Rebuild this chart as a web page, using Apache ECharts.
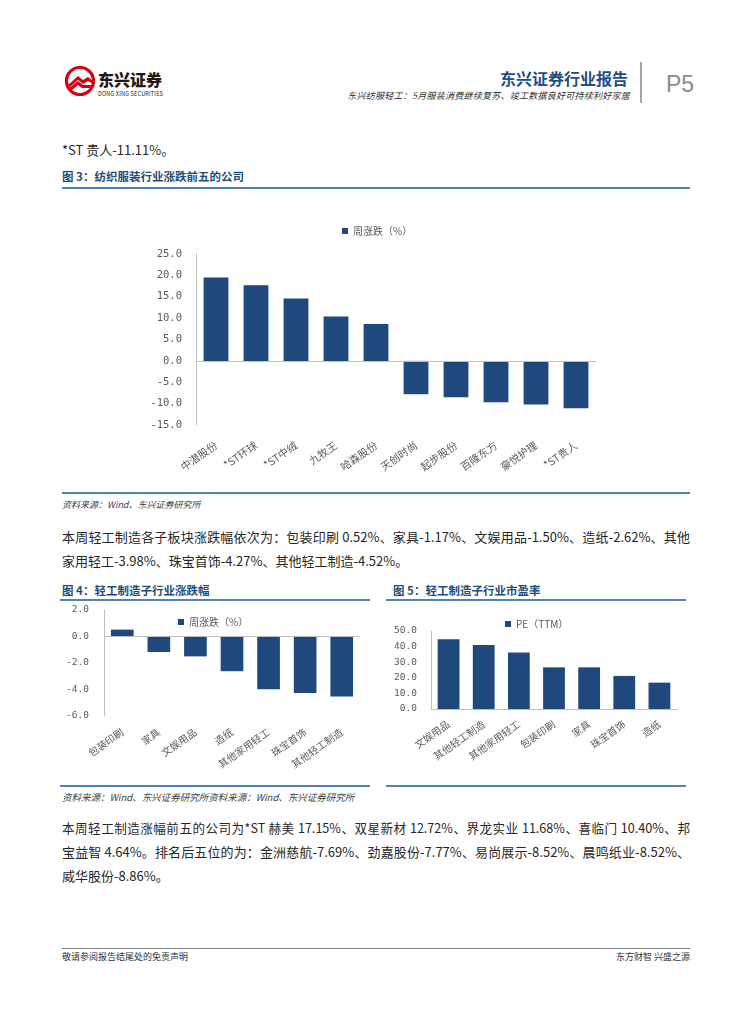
<!DOCTYPE html>
<html>
<head>
<meta charset="utf-8">
<script src="https://cdn.jsdelivr.net/npm/echarts@6/dist/echarts.min.js"></script>
<style>
html,body{margin:0;padding:0;background:#fff;}
#page{position:relative;width:755px;height:1024px;overflow:hidden;font-family:"Noto Sans CJK SC",sans-serif;color:#262626;}
.t{position:absolute;white-space:nowrap;}
.p{position:absolute;left:62px;width:628px;font-size:13px;line-height:16px;height:16px;text-align:justify;text-align-last:justify;}
.pl{position:absolute;left:62px;font-size:13px;line-height:16px;white-space:nowrap;}
.cap{position:absolute;font-size:11.5px;font-weight:bold;color:#1f4e79;line-height:14px;white-space:nowrap;}
.ln{position:absolute;height:2px;background:#4f81bd;}
.src{position:absolute;font-size:9px;font-style:italic;color:#404040;line-height:12px;white-space:nowrap;}
#chart{position:absolute;left:0;top:0;width:755px;height:1024px;}
</style>
</head>
<body>
<div id="page">
  <!-- header -->
  <svg style="position:absolute;left:62px;top:64px" width="40" height="36" viewBox="0 0 40 36">
    <circle cx="18" cy="17" r="13.5" fill="#fff" stroke="#d7000f" stroke-width="3.2"/>
    <path d="M6,21 L16,12 L21,16 L26,13 L31,17 L31,20 L26,17 L21,20 L16,16 L8,23 Z" fill="#d7000f"/>
    <path d="M6,25 L16,17 L21,21 L31,21 L31,24 L20,24 L16,21 L9,27 Z" fill="#d7000f"/>
  </svg>
  <div class="t" style="left:98px;top:69px;font-size:16px;font-weight:900;color:#231815;line-height:20px;">东兴证券</div>
  <div class="t" style="left:98px;top:91px;font-size:5.5px;color:#231815;line-height:7px;letter-spacing:0.2px;">DONG XING SECURITIES</div>
  <div class="t" style="right:127px;top:68px;font-size:16px;font-weight:bold;color:#1f4e8c;line-height:20px;">东兴证券行业报告</div>
  <div class="t" style="right:125px;top:90px;font-size:9px;color:#333;line-height:12px;letter-spacing:0.25px;font-style:italic;">东兴纺服轻工：5月服装消费继续复苏、竣工数据良好可持续利好家居</div>
  <div style="position:absolute;left:640px;top:62px;width:1.5px;height:41px;background:#a6a6a6;"></div>
  <div class="t" style="left:666px;top:70px;font-size:23px;color:#8c8c8c;line-height:28px;font-family:'Liberation Sans',sans-serif;">P5</div>

  <!-- body -->
  <div class="pl" style="top:142px;">*ST 贵人-11.11%。</div>
  <div class="cap" style="left:62px;top:169px;">图 3：纺织服装行业涨跌前五的公司</div>
  <div class="ln" style="left:62px;width:628px;top:187px;"></div>

  <div class="ln" style="left:62px;width:628px;top:492px;"></div>
  <div class="src" style="left:62px;top:499px;">资料来源：Wind、东兴证券研究所</div>

  <div class="p" style="top:529px;">本周轻工制造各子板块涨跌幅依次为：包装印刷 0.52%、家具-1.17%、文娱用品-1.50%、造纸-2.62%、其他</div>
  <div class="pl" style="top:553px;">家用轻工-3.98%、珠宝首饰-4.27%、其他轻工制造-4.52%。</div>

  <div class="cap" style="left:62px;top:583px;">图 4：轻工制造子行业涨跌幅</div>
  <div class="cap" style="left:393px;top:583px;">图 5：轻工制造子行业市盈率</div>
  <div class="ln" style="left:60px;width:310px;top:599px;"></div>
  <div class="ln" style="left:386px;width:300px;top:599px;"></div>

  <div class="ln" style="left:60px;width:310px;top:785px;"></div>
  <div class="ln" style="left:386px;width:300px;top:785px;"></div>
  <div class="src" style="left:62px;top:791px;font-size:9.5px;">资料来源：Wind、东兴证券研究所资料来源：Wind、东兴证券研究所</div>

  <div class="p" style="top:820px;font-size:12.6px;">本周轻工制造涨幅前五的公司为*ST 赫美 17.15%、双星新材 12.72%、界龙实业 11.68%、喜临门 10.40%、邦</div>
  <div class="p" style="top:844px;">宝益智 4.64%。排名后五位的为：金洲慈航-7.69%、劲嘉股份-7.77%、易尚展示-8.52%、晨鸣纸业-8.52%、</div>
  <div class="pl" style="top:868px;">威华股份-8.86%。</div>

  <!-- footer -->
  <div style="position:absolute;left:62px;top:948px;width:628px;height:1px;background:#7f7f7f;"></div>
  <div class="t" style="left:62px;top:951px;font-size:9px;line-height:11px;color:#333;">敬请参阅报告结尾处的免责声明</div>
  <div class="t" style="right:65px;top:951px;font-size:9px;line-height:11px;color:#333;">东方财智 兴盛之源</div>

  <div id="chart"></div>
</div>
<script>
// ---- data ----
const companyNames = ['中潜股份', '*ST环球', '*ST中绒', '九牧王', '哈森股份', '天创时尚', '起步股份', '百隆东方', '豪悦护理', '*ST贵人'];
const companyChange = [19.5, 17.7, 14.6, 10.4, 8.6, -7.8, -8.5, -9.7, -10.2, -11.11];
const subIndustryNames = ['包装印刷', '家具', '文娱用品', '造纸', '其他家用轻工', '珠宝首饰', '其他轻工制造'];
const subIndustryChange = [0.52, -1.17, -1.50, -2.62, -3.98, -4.27, -4.52];
const peNames = ['文娱用品', '其他轻工制造', '其他家用轻工', '包装印刷', '家具', '珠宝首饰', '造纸'];
const peValues = [44.7, 41.1, 36.2, 26.7, 26.7, 21.2, 16.9];
const seriesChange = '周涨跌（%）';
const seriesPE = 'PE（TTM）';

const barColor = '#1f497d';
const axisColor = '#bfbfbf';
const labelColor = '#595959';

function catAxis(idx, data, size, margin, showLine) {
  return {
    type: 'category', gridIndex: idx, data: data,
    axisLine: { show: showLine, onZero: false, lineStyle: { color: axisColor } },
    axisTick: { show: false },
    axisLabel: { interval: 0, rotate: 35, margin: margin, fontSize: size, color: labelColor, fontFamily: 'Noto Sans CJK SC' }
  };
}
function valAxis(idx, min, max, interval, size, margin) {
  return {
    type: 'value', gridIndex: idx, min: min, max: max, interval: interval,
    axisLine: { show: true, lineStyle: { color: axisColor } },
    axisTick: { show: false },
    splitLine: { show: false },
    axisLabel: { margin: margin, fontSize: size, color: labelColor, fontFamily: 'DejaVu Sans Mono', formatter: v => v.toFixed(1) }
  };
}
function legendAt(name, left, top) {
  return {
    data: [name], left: left, top: top, padding: 0, icon: 'rect', itemWidth: 6, itemHeight: 6,
    textStyle: { fontSize: 10, color: labelColor, fontFamily: 'Noto Sans CJK SC', lineHeight: 12 }
  };
}
const zeroLine = { silent: true, symbol: 'none', label: { show: false }, lineStyle: { color: axisColor, width: 1, type: 'solid' }, data: [{ yAxis: 0 }] };

const chart = echarts.init(document.getElementById('chart'));
chart.setOption({
  animation: false,
  legend: [
    legendAt(seriesChange, 342, 225),
    legendAt(seriesChange, 178, 616),
    legendAt(seriesPE, 505, 618)
  ],
  grid: [
    { left: 196, top: 254, width: 400, height: 171 },
    { left: 104, top: 610, width: 256, height: 106 },
    { left: 431, top: 631, width: 246, height: 78 }
  ],
  xAxis: [
    catAxis(0, companyNames, 10.5, 19, false),
    catAxis(1, subIndustryNames, 10, 15, false),
    catAxis(2, peNames, 10, 14, true)
  ],
  yAxis: [
    valAxis(0, -15, 25, 5, 10.5, 14),
    valAxis(1, -6, 2, 2, 9.5, 15),
    valAxis(2, 0, 50, 10, 9.5, 14)
  ],
  series: [
    { name: seriesChange, type: 'bar', xAxisIndex: 0, yAxisIndex: 0, data: companyChange, barWidth: '62%', itemStyle: { color: barColor }, markLine: zeroLine },
    { name: seriesChange, type: 'bar', xAxisIndex: 1, yAxisIndex: 1, data: subIndustryChange, barWidth: '62%', itemStyle: { color: barColor }, markLine: zeroLine },
    { name: seriesPE, type: 'bar', xAxisIndex: 2, yAxisIndex: 2, data: peValues, barWidth: '62%', itemStyle: { color: barColor } }
  ]
});
</script>
</body>
</html>
